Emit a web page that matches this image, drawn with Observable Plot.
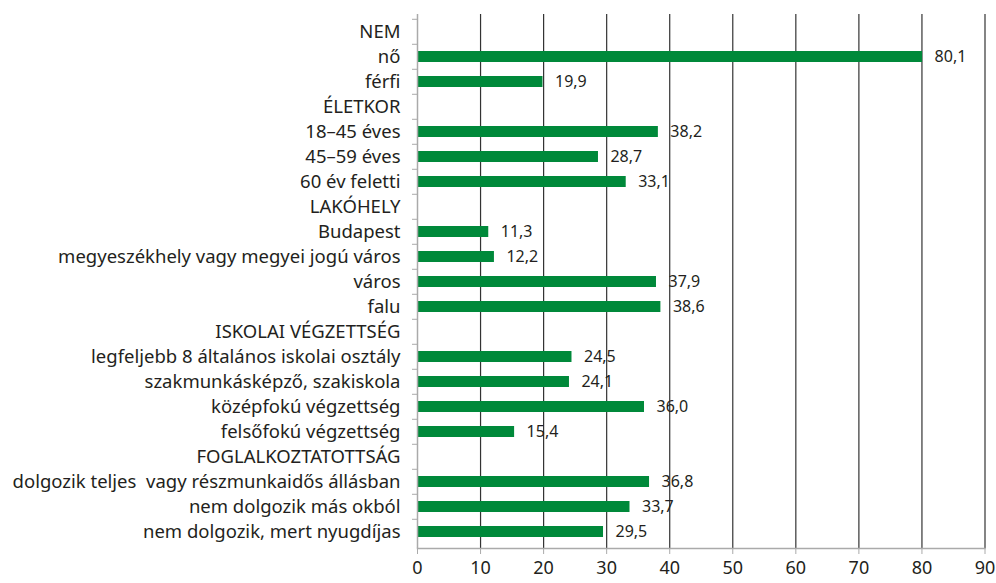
<!DOCTYPE html>
<html>
<head>
<meta charset="utf-8">
<script src="https://cdn.jsdelivr.net/npm/d3@7"></script>
<script src="https://cdn.jsdelivr.net/npm/@observablehq/plot@0.6"></script>
<style>
  html, body { margin: 0; padding: 0; background: #fff; }
  #chart svg { display: block; }
</style>
</head>
<body>
<div id="chart"></div>
<script>
const categories = [
  "NEM", "nő", "férfi",
  "ÉLETKOR", "18–45 éves", "45–59 éves", "60 év feletti",
  "LAKÓHELY", "Budapest", "megyeszékhely vagy megyei jogú város", "város", "falu",
  "ISKOLAI VÉGZETTSÉG", "legfeljebb 8 általános iskolai osztály", "szakmunkásképző, szakiskola", "középfokú végzettség", "felsőfokú végzettség",
  "FOGLALKOZTATOTTSÁG", "dolgozik teljes  vagy részmunkaidős állásban", "nem dolgozik más okból", "nem dolgozik, mert nyugdíjas"
];
const values = [
  null, 80.1, 19.9,
  null, 38.2, 28.7, 33.1,
  null, 11.3, 12.2, 37.9, 38.6,
  null, 24.5, 24.1, 36.0, 15.4,
  null, 36.8, 33.7, 29.5
];
const xTicks = [0, 10, 20, 30, 40, 50, 60, 70, 80, 90];
const gridTicks = [10, 20, 30, 40, 50, 60, 70, 80, 90];

const rows = categories.map((c, i) => ({cat: c, value: values[i]}));
const bars = rows.filter(d => d.value != null);

const W = 996, H = 583, mT = 14, mB = 35, mL = 417, mR = 11.5;
const step = (H - mT - mB) / categories.length;
const green = "#00893a";
const ink = "#231f20";

const chart = Plot.plot({
  width: W,
  height: H,
  marginTop: mT,
  marginBottom: mB,
  marginLeft: mL,
  marginRight: mR,
  style: {fontFamily: "'Noto Sans', sans-serif", color: ink, background: "#fff"},
  x: {domain: [0, 90], ticks: xTicks, label: null},
  y: {domain: categories, paddingInner: 0.58, paddingOuter: 0.29, label: null},
  marks: [
    Plot.ruleX(gridTicks, {stroke: "#333", strokeWidth: 1.2}),
    Plot.barX(bars, {y: "cat", x: "value", fill: green}),
    Plot.text(bars, {
      y: "cat", x: "value",
      text: d => d.value.toFixed(1).replace(".", ","),
      textAnchor: "start", dx: 12, fontSize: 16, fill: ink
    }),
    Plot.ruleX([0], {stroke: "#aaa", strokeWidth: 1.5}),
    Plot.frame({anchor: "bottom", stroke: "#aaa", strokeWidth: 1.5}),
    Plot.axisX({ticks: xTicks, tickSize: 6, stroke: "#aaa", tickPadding: 7, fontSize: 18, fill: ink, label: null, tickFormat: d => String(d)}),
    Plot.axisY({tickSize: 0, tickPadding: 17, fontSize: 18.5, fill: ink, label: null}),
    Plot.axisY({tickSize: 5, stroke: "#aaa", text: null, dy: -step / 2, label: null})
  ]
});
document.getElementById("chart").appendChild(chart);
</script>
</body>
</html>
